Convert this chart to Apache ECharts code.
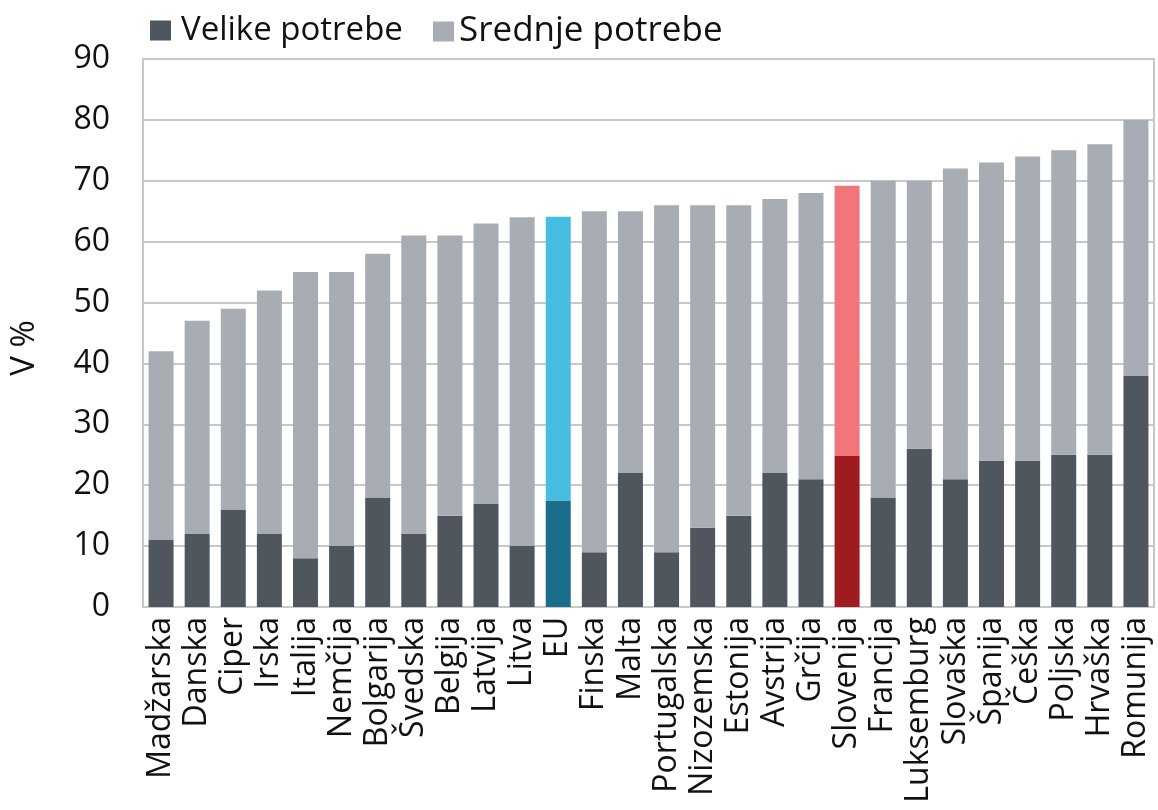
<!DOCTYPE html>
<html>
<head>
<meta charset="utf-8">
<script src="https://cdn.jsdelivr.net/npm/echarts@6/dist/echarts.min.js"></script>
<style>
html,body{margin:0;padding:0;background:#fff;}
#chart{width:1158px;height:810px;}
</style>
</head>
<body>
<div id="chart"></div>
<script>
const categories = ['Madžarska','Danska','Ciper','Irska','Italija','Nemčija','Bolgarija','Švedska','Belgija','Latvija','Litva','EU','Finska','Malta','Portugalska','Nizozemska','Estonija','Avstrija','Grčija','Slovenija','Francija','Luksemburg','Slovaška','Španija','Češka','Poljska','Hrvaška','Romunija'];
const velikePotrebe = [11,12,16,12,8,10,18,12,15,17,10,17.5,9,22,9,13,15,22,21,24.8,18,26,21,24,24,25,25,38];
const srednjePotrebe = [31,35,33,40,47,45,40,49,46,46,54,46.6,56,43,57,53,51,45,47,44.4,52,44,51,49,50,50,51,42];
const yTicks = [0,10,20,30,40,50,60,70,80,90];

const darkCol = '#50565e', lightCol = '#a8adb3';
const highlight = {
  'EU': {dark:'#1b6d8c', light:'#48bde2'},
  'Slovenija': {dark:'#9e1c20', light:'#f2757a'}
};
function mk(vals, key){
  return vals.map((v,i)=>{
    const h = highlight[categories[i]];
    return h ? {value:v, itemStyle:{color:h[key]}} : v;
  });
}
const font = 'Open Sans, Noto Sans, sans-serif';
const legendBase = {
  top:9, itemWidth:21, itemHeight:20, icon:'rect'
};
const chart = echarts.init(document.getElementById('chart'));
chart.setOption({
  animation:false,
  backgroundColor:'#fff',
  legend:[
    Object.assign({}, legendBase, {left:145, data:['Velike potrebe'],
      textStyle:{fontSize:33, color:'#111', fontFamily:font, padding:[0,0,0,5]}}),
    Object.assign({}, legendBase, {left:428, data:['Srednje potrebe'],
      textStyle:{fontSize:35, color:'#111', fontFamily:font, padding:[0,0,0,0]}})
  ],
  grid:{left:143, right:4, top:59, bottom:203, show:true, borderColor:'#c8c8c8', borderWidth:2},
  xAxis:{
    type:'category', data:categories,
    axisLine:{lineStyle:{color:'#c8c8c8', width:2}},
    axisTick:{show:false},
    axisLabel:{rotate:90, fontSize:32, color:'#111', fontFamily:font, margin:10, interval:0}
  },
  yAxis:{
    type:'value', min:yTicks[0], max:yTicks[yTicks.length-1], interval:10,
    name:'V %', nameLocation:'middle', nameGap:102,
    nameTextStyle:{fontSize:33, color:'#111', fontFamily:font, padding:[0,30,0,0]},
    axisLabel:{fontSize:32, color:'#111', fontFamily:font, margin:33},
    axisLine:{show:false}, axisTick:{show:false},
    splitLine:{lineStyle:{color:'#c8c8c8', width:2}}
  },
  series:[
    {name:'Velike potrebe', type:'bar', stack:'s', barWidth:25, itemStyle:{color:darkCol}, data:mk(velikePotrebe,'dark')},
    {name:'Srednje potrebe', type:'bar', stack:'s', barWidth:25, itemStyle:{color:lightCol}, data:mk(srednjePotrebe,'light')}
  ]
});
</script>
</body>
</html>
